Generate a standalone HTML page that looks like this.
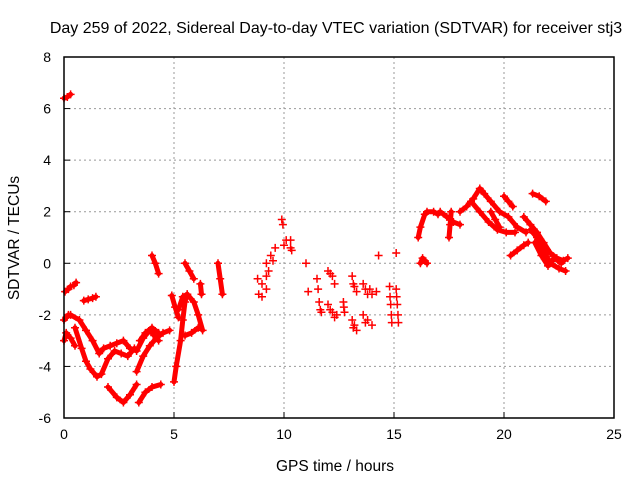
<!DOCTYPE html>
<html><head><meta charset="utf-8"><style>
body{margin:0;background:#fff}
svg{display:block;font-family:"Liberation Sans",sans-serif}
</style></head><body>
<svg id="chart" width="640" height="480">
<text x="336" y="33" font-size="16" text-anchor="middle">Day 259 of 2022, Sidereal Day-to-day VTEC variation (SDTVAR) for receiver stj3</text>
<text x="335" y="471" font-size="15.5" text-anchor="middle">GPS time / hours</text>
<text transform="translate(19,238) rotate(-90)" font-size="15.5" text-anchor="middle">SDTVAR / TECUs</text>
<g id="grid"></g><g id="ticks"></g><g id="marks"></g>
<rect x="64" y="57" width="550" height="361" fill="none" stroke="#000" stroke-width="1.5"/>
</svg>
<script>
const xTicks=[0,5,10,15,20,25];
const yTicks=[-6,-4,-2,0,2,4,6,8];
// each segment: times (hours) and values (TECU)
const segTimes=[
[0,0.15,0.3],
[0.05,0.2,0.3],
[0.45,0.55],
[0.9,1.1,1.3,1.45],
[0.0,0.1,0.2],
[0.3,0.7,1.0,1.3,1.6,1.8,2.1,2.4,2.7,3.0,3.3,3.6,3.9,4.1,4.3],
[0.5,0.8,1.0,1.2,1.5,1.7,2.0,2.3,2.6,2.9,3.2],
[0.0,0.1,0.3,0.5],
[2.0,2.4,2.7,3.0,3.3],
[3.4,3.7,4.0,4.4],
[3.3,3.6,3.9,4.2,4.5,4.8],
[3.45,3.7,4.0,4.3],
[4.0,4.15,4.3],
[4.9,5.05,5.2],
[5.0,5.1,5.3,5.4,5.5,5.6],
[5.5,5.7,5.9],
[5.2,5.4,5.6,5.9,6.1,6.3],
[5.5,5.8,6.1],
[6.2,6.25],
[7.0,7.1,7.2],
[8.8,8.85,9.0,9.0,9.2,9.2],
[9.2,9.3,9.4,9.5,9.6],
[9.9,9.95],
[10.0,10.1,10.3,10.35,10.3],
[11.0],[11.1],
[11.5,11.55,11.6,11.65,11.7],
[12.0,12.1,12.2,12.3],
[12.0,12.1,12.2,12.3,12.4],
[12.7,12.72,12.75],
[13.1,13.15,13.2,13.3],
[13.1,13.15,13.2,13.3],
[13.6,13.7,13.8,13.9,14.0],
[13.6,13.7,13.8,14.0],
[14.2],[14.3],
[14.8,14.82,14.85,14.88,14.9],
[15.1],[15.1,15.12,15.15,15.18,15.2],
[16.2,16.3,16.4,16.5],
[16.1,16.2,16.4],
[16.5,16.8,17.0],
[17.1,17.4,17.7,18.0],
[17.5,17.55,17.6],
[18.0,18.3,18.6,18.9,19.1],
[18.5,18.9,19.3,19.7,20.1,20.5],
[19.0,19.4,19.8,20.2,20.6,21.0],
[19.4,19.6,19.8],
[20.0,20.2,20.4],
[20.3,20.6,20.9,21.1],
[21.3,21.6,21.9],
[20.9,21.2,21.5,21.8,22.1,22.4,22.7,22.9],
[21.2,21.5,21.8,22.1,22.5,22.8],
[21.4,21.7,22.0,22.3,22.6]
];
const segValues=[
[6.4,6.45,6.55],
[-1.1,-1.0,-0.9],
[-0.85,-0.75],
[-1.45,-1.4,-1.35,-1.3],
[-2.2,-2.1,-2.0],
[-2.0,-2.2,-2.6,-3.0,-3.5,-3.3,-3.2,-3.1,-3.0,-3.3,-3.4,-2.9,-2.6,-2.8,-3.0],
[-2.5,-3.3,-3.8,-4.1,-4.4,-4.3,-3.7,-3.4,-3.5,-3.6,-3.3],
[-3.0,-2.7,-2.9,-3.2],
[-4.8,-5.2,-5.4,-5.1,-4.7],
[-5.4,-5.0,-4.8,-4.7],
[-4.2,-3.6,-3.2,-2.9,-2.7,-2.6],
[-3.0,-2.7,-2.5,-2.7],
[0.3,0.0,-0.4],
[-1.25,-1.7,-2.1],
[-4.6,-4.0,-3.0,-2.2,-1.5,-1.2],
[0.0,-0.3,-0.6],
[-1.8,-1.3,-1.2,-1.5,-2.0,-2.6],
[-2.8,-2.7,-2.5],
[-0.8,-1.2],
[0.0,-0.6,-1.2],
[-0.6,-1.2,-0.8,-1.3,-0.5,-1.0],
[0.0,-0.3,0.3,0.1,0.6],
[1.7,1.5],
[0.7,0.9,0.9,0.5,0.6],
[0.0],[-1.1],
[-0.6,-1.0,-1.5,-1.8,-1.9],
[-0.3,-0.4,-0.5,-0.8],
[-1.6,-1.8,-1.9,-2.1,-2.0],
[-1.5,-1.7,-1.9],
[-0.5,-0.8,-0.9,-1.1],
[-2.2,-2.5,-2.4,-2.6],
[-0.8,-1.0,-1.2,-1.0,-1.2],
[-2.0,-2.3,-2.2,-2.4],
[-1.1],[0.3],
[-0.9,-1.3,-1.6,-2.0,-2.3],
[0.4],[-1.0,-1.3,-1.6,-2.0,-2.3],
[0.0,0.2,0.1,0.0],
[1.0,1.4,1.9],
[2.0,2.0,1.9],
[2.0,1.8,1.6,1.5],
[1.0,1.5,2.0],
[2.0,2.2,2.5,2.9,2.7],
[2.4,2.0,1.6,1.3,1.2,1.2],
[2.8,2.4,2.0,1.8,1.4,1.2],
[2.0,1.7,1.4],
[2.6,2.4,2.2],
[0.3,0.5,0.7,0.8],
[2.7,2.6,2.4],
[1.8,1.5,1.2,0.8,0.4,0.2,0.1,0.2],
[1.3,1.0,0.5,0.0,-0.2,-0.3],
[0.8,0.3,-0.1,0.2,0.0]
];
const NS='http://www.w3.org/2000/svg';
const L=64,R=614,T=57,B=418;
function xs(t){return L+(t-0)/(25-0)*(R-L);}
function ys(v){return B-(v-(-6))/(8-(-6))*(B-T);}
const grid=document.getElementById('grid'),ticks=document.getElementById('ticks'),marks=document.getElementById('marks');
function mk(tag,attrs,parent){const e=document.createElementNS(NS,tag);for(const k in attrs)e.setAttribute(k,attrs[k]);parent.appendChild(e);return e;}
xTicks.forEach(t=>{
  const x=xs(t);
  if(t>0&&t<25){const g=mk('line',{x1:x,y1:T,x2:x,y2:B,stroke:'#999','stroke-dasharray':'2,3'},grid);
  
  }
  const tk=mk('line',{x1:x,y1:B,x2:x,y2:B-6,stroke:'#000'},ticks);
  
  
  const lb=mk('text',{x:x,y:B+21,'font-size':14,'text-anchor':'middle'},ticks);
  lb.textContent=t;
  
  
});
yTicks.forEach(v=>{
  const y=ys(v);
  if(v>-6&&v<8){const g=mk('line',{x1:L,y1:y,x2:R,y2:y,stroke:'#999','stroke-dasharray':'2,3'},grid);
  
  }
  const tk=mk('line',{x1:L,y1:y,x2:L+6,y2:y,stroke:'#000'},ticks);
  
  
  const lb=mk('text',{x:L-13,y:y+5,'font-size':14,'text-anchor':'end'},ticks);
  lb.textContent=v;
  
  
});
segTimes.forEach((ts,i)=>{
  const vs=segValues[i];
  const scattered=ts[0]>8&&ts[0]<15.5;
  if(ts.length>1&&!scattered){
    const pl=mk('polyline',{points:ts.map((t,j)=>xs(t)+','+ys(vs[j])).join(' '),fill:'none',stroke:'#f00','stroke-width':5,'stroke-linejoin':'round','stroke-linecap':'round'},marks);
    
    
  }
  ts.forEach((t,j)=>{
    const x=xs(t),y=ys(vs[j]);
    const p=mk('path',{d:`M${x-4},${y}H${x+4}M${x},${y-4}V${y+4}`,stroke:'#f00','stroke-width':1.5},marks);
    
    
  });
});
</script>
</body></html>
